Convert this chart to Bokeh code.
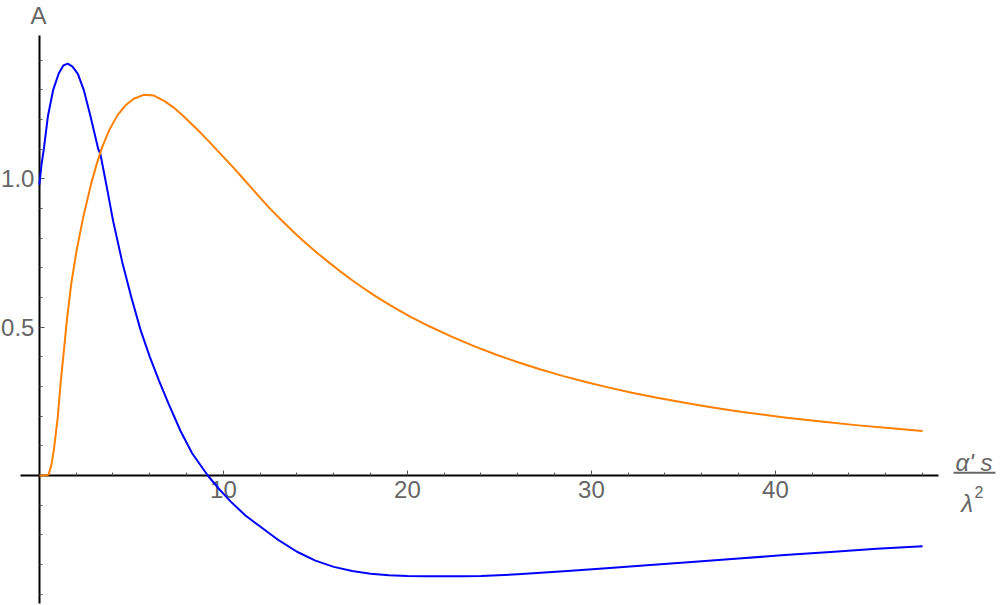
from bokeh.plotting import figure
from bokeh.models import FixedTicker, PrintfTickFormatter, Label, Range1d, ColumnDataSource
from bokeh.embed import file_html
from bokeh.resources import INLINE

# ---- data ----
blue_x = [0.0, 0.12, 0.24, 0.46, 0.75, 1.05, 1.3, 1.54, 1.8, 2.09, 2.41, 2.78, 3.2, 3.32,
          3.7, 4.0, 4.5, 5.0, 5.5, 6.0, 6.5, 7.0, 7.67, 8.3, 9.15, 9.8, 10.4, 11.2, 12.0,
          13.0, 14.0, 15.0, 16.0, 17.0, 18.0, 19.0, 20.0, 21.0, 22.0, 23.0, 24.0, 26.0,
          28.7, 31.0, 33.2, 36.0, 38.0, 40.5, 43.0, 45.5, 48.0]
blue_y = [0.98, 1.05, 1.10, 1.21, 1.30, 1.355, 1.382, 1.388, 1.378, 1.354, 1.30, 1.21, 1.10, 1.082,
          0.96, 0.86, 0.72, 0.60, 0.49, 0.40, 0.32, 0.245, 0.15, 0.075, 0.0, -0.048, -0.088, -0.135, -0.172,
          -0.218, -0.257, -0.287, -0.308, -0.322, -0.331, -0.336, -0.3385, -0.3395, -0.3398, -0.3395, -0.3385, -0.333,
          -0.322, -0.312, -0.302, -0.289, -0.280, -0.268, -0.258, -0.247, -0.238]

orange_x = [0.0, 0.3, 0.5, 0.65, 0.78, 1.0, 1.15, 1.33, 1.51, 1.73, 2.02, 2.38, 2.81, 3.1, 3.4,
            3.8, 4.23, 4.7, 5.13, 5.67, 6.2, 6.8, 7.3, 7.85, 8.3, 8.76, 9.2, 9.6, 10.1, 10.57,
            11.0, 11.5, 12.0, 12.56, 13.2, 13.9, 14.5, 15.2, 15.8, 16.33, 17.0, 17.6, 18.2, 18.76,
            19.5, 20.2, 21.19, 22.4, 23.62, 24.8, 26.05, 27.2, 28.48, 29.7, 30.9, 32.2, 33.5,
            35.0, 36.5, 38.2, 40.6, 42.5, 44.5, 46.3, 48.0]
orange_y = [0.0, 0.0, 0.003, 0.035, 0.084, 0.197, 0.31, 0.42, 0.534, 0.646, 0.758, 0.87, 0.983, 1.047, 1.105,
            1.165, 1.213, 1.249, 1.270, 1.283, 1.281, 1.262, 1.240, 1.210, 1.183, 1.155, 1.127, 1.100, 1.067, 1.036,
            1.006, 0.971, 0.936, 0.898, 0.858, 0.816, 0.782, 0.745, 0.715, 0.689, 0.658, 0.632, 0.607, 0.585,
            0.558, 0.534, 0.503, 0.468, 0.436, 0.408, 0.381, 0.358, 0.335, 0.315, 0.297, 0.279, 0.263,
            0.246, 0.230, 0.214, 0.195, 0.182, 0.169, 0.159, 0.150]

x_major = [10, 20, 30, 40]
x_minor = [2, 4, 6, 8, 12, 14, 16, 18, 22, 24, 26, 28, 32, 34, 36, 38, 42, 44, 46, 48]
y_major = [0.5, 1.0]
y_minor = [-0.4, -0.3, -0.2, -0.1, 0.1, 0.2, 0.3, 0.4, 0.6, 0.7, 0.8, 0.9, 1.1, 1.2, 1.3, 1.4]

FONT = "Liberation Sans"
GRAY = "#666666"

p = figure(width=1000, height=605, output_backend="svg", toolbar_location=None,
           x_range=Range1d(-2.114, 52.234), y_range=Range1d(-0.4381, 1.601),
           min_border=0)
p.min_border_left = 0
p.min_border_right = 0
p.min_border_top = 0
p.min_border_bottom = 0
p.grid.visible = False
p.outline_line_color = None
p.background_fill_color = "white"
p.border_fill_color = "white"

xa = p.xaxis[0]
xa.fixed_location = 0
xa.bounds = (-1.0, 48.86)
xa.ticker = FixedTicker(ticks=x_major, minor_ticks=x_minor)
xa.axis_line_width = 2
xa.axis_line_color = "black"
xa.major_tick_in = 5
xa.major_tick_out = 0
xa.minor_tick_in = 3
xa.minor_tick_out = 0
xa.major_tick_line_color = "#555555"
xa.minor_tick_line_color = "#555555"
xa.major_label_text_font = FONT
xa.major_label_text_font_size = "24px"
xa.major_label_text_color = GRAY
xa.major_label_standoff = 5

ya = p.yaxis[0]
ya.fixed_location = 0
ya.bounds = (-0.431, 1.483)
ya.ticker = FixedTicker(ticks=y_major, minor_ticks=y_minor)
ya.formatter = PrintfTickFormatter(format="%.1f")
ya.axis_line_width = 2
ya.axis_line_color = "black"
ya.major_tick_in = 5
ya.major_tick_out = 0
ya.minor_tick_in = 3
ya.minor_tick_out = 0
ya.major_tick_line_color = "#555555"
ya.minor_tick_line_color = "#555555"
ya.major_label_text_font = FONT
ya.major_label_text_font_size = "24px"
ya.major_label_text_color = GRAY
ya.major_label_standoff = 5

src_b = ColumnDataSource(dict(x=blue_x, y=blue_y))
src_o = ColumnDataSource(dict(x=orange_x, y=orange_y))
p.line("x", "y", source=src_b, line_color="#0000ff", line_width=2, line_join="round", level="overlay")
p.line("x", "y", source=src_o, line_color="#ff8000", line_width=2, line_join="round", level="overlay")

# axis titles
p.add_layout(Label(x=-0.05, y=1.550, text="A", text_align="center", text_baseline="middle",
                   text_font=FONT, text_font_size="24px", text_color=GRAY))
p.add_layout(Label(x=49.79, y=0.0448, text="α' s", text_align="left", text_baseline="alphabetic",
                   text_font=FONT, text_font_size="24px", text_font_style="italic", text_color=GRAY))
p.segment(x0=[49.68], y0=[0.0091], x1=[51.96], y1=[0.0091], line_color=GRAY, line_width=2)
p.add_layout(Label(x=50.1, y=-0.0944, text="λ", text_align="left", text_baseline="alphabetic",
                   text_font=FONT, text_font_size="24px", text_font_style="italic", text_color=GRAY))
p.add_layout(Label(x=50.82, y=-0.0563, text="2", text_align="left", text_baseline="alphabetic",
                   text_font=FONT, text_font_size="16px", text_color=GRAY))

open("out.html", "w").write(file_html(p, INLINE))
